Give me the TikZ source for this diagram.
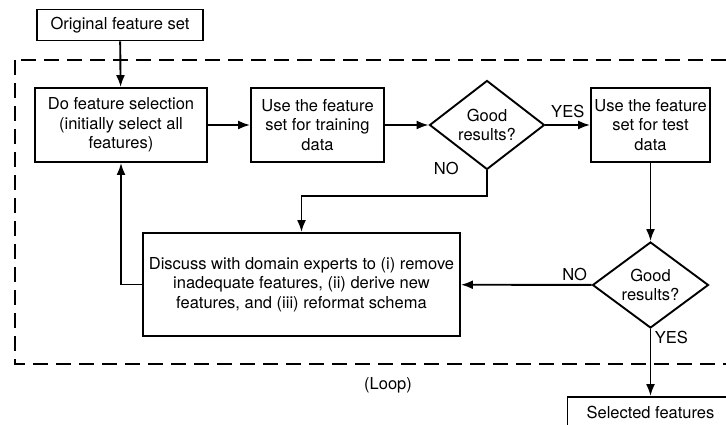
\documentclass[tikz,border=0pt]{standalone}
\usepackage{fontspec}
\setmainfont{TeX Gyre Heros}
\usepackage{tikz}
\usetikzlibrary{shapes,arrows.meta}

\begin{document}
\begin{tikzpicture}[auto, >={Latex[length=12pt,width=9pt]}, line width=1.9pt]
    \tikzstyle{every node} = [font=\fontsize{16.5}{19.5}\selectfont]
    \tikzstyle{textbox} = [align=center, draw, inner sep=2pt]
    \tikzstyle{decision} = [textbox, diamond, aspect=1.3, inner sep=0pt, minimum width=115pt, minimum height=89pt]
    \tikzstyle{process} = [textbox, rectangle, minimum height=74pt]
    \tikzstyle{loopbox} = [dashed, dash pattern=on 15pt off 8pt]

    \useasboundingbox (0pt,0pt) rectangle (726pt,-425pt);

    \node (orig) [textbox, minimum width=166pt, minimum height=31pt] at (120pt,-25pt) {Original feature set};
    \node (select) [process, below of=orig, node distance=100pt, xshift=1pt, minimum width=172pt] {Do feature selection\\(initially select all\\features)};
    \node (train) [process, right of=select, node distance=196.5pt, minimum width=133pt] {Use the feature\\set for training\\data};
    \node (good1) [decision, right of=train, node distance=169.5pt] {Good\\results?};
    \node (test) [process, right of=good1, node distance=163.5pt, minimum width=119pt] {Use the feature\\set for test\\data};
    \node (good2) [decision, below of=test, node distance=160pt, minimum width=116pt, minimum height=86pt] {Good\\results?};
    \node (discuss) [process, below of=train, node distance=159.5pt, xshift=-16pt, minimum width=317pt, minimum height=103pt] {Discuss with domain experts to (i) remove\\inadequate features, (ii) derive new\\features, and (iii) reformat schema};
    \node (selected) [textbox, below of=good2, node distance=127.5pt, minimum width=166pt, minimum height=31pt] {Selected features};
    \node (loop) [below of=discuss, node distance=100.5pt, xshift=86.5pt] {(Loop)};

    \draw [loopbox] (15pt,-60pt) rectangle (745pt,-364pt);
    \draw [->] (orig) -- (select);
    \draw [->] (select) -- (train);
    \draw [->] (train) -- (good1);
    \draw [->] (good1) -- node [yshift=3pt] {YES} (test);
    \draw [->] (good1.south) node [anchor=east, xshift=-24pt, yshift=2pt] {NO} -- ++(0,-26pt) -| (discuss.north);
    \draw [->] (test) -- (good2);
    \draw [->] (good2) -- node [above, pos=0.13] {NO} (discuss);
    \draw [->] (discuss.west) -| (select.south);
    \draw [->] (good2) -- node [right, pos=0.13] {YES} (selected);
  \end{tikzpicture}
\end{document}
